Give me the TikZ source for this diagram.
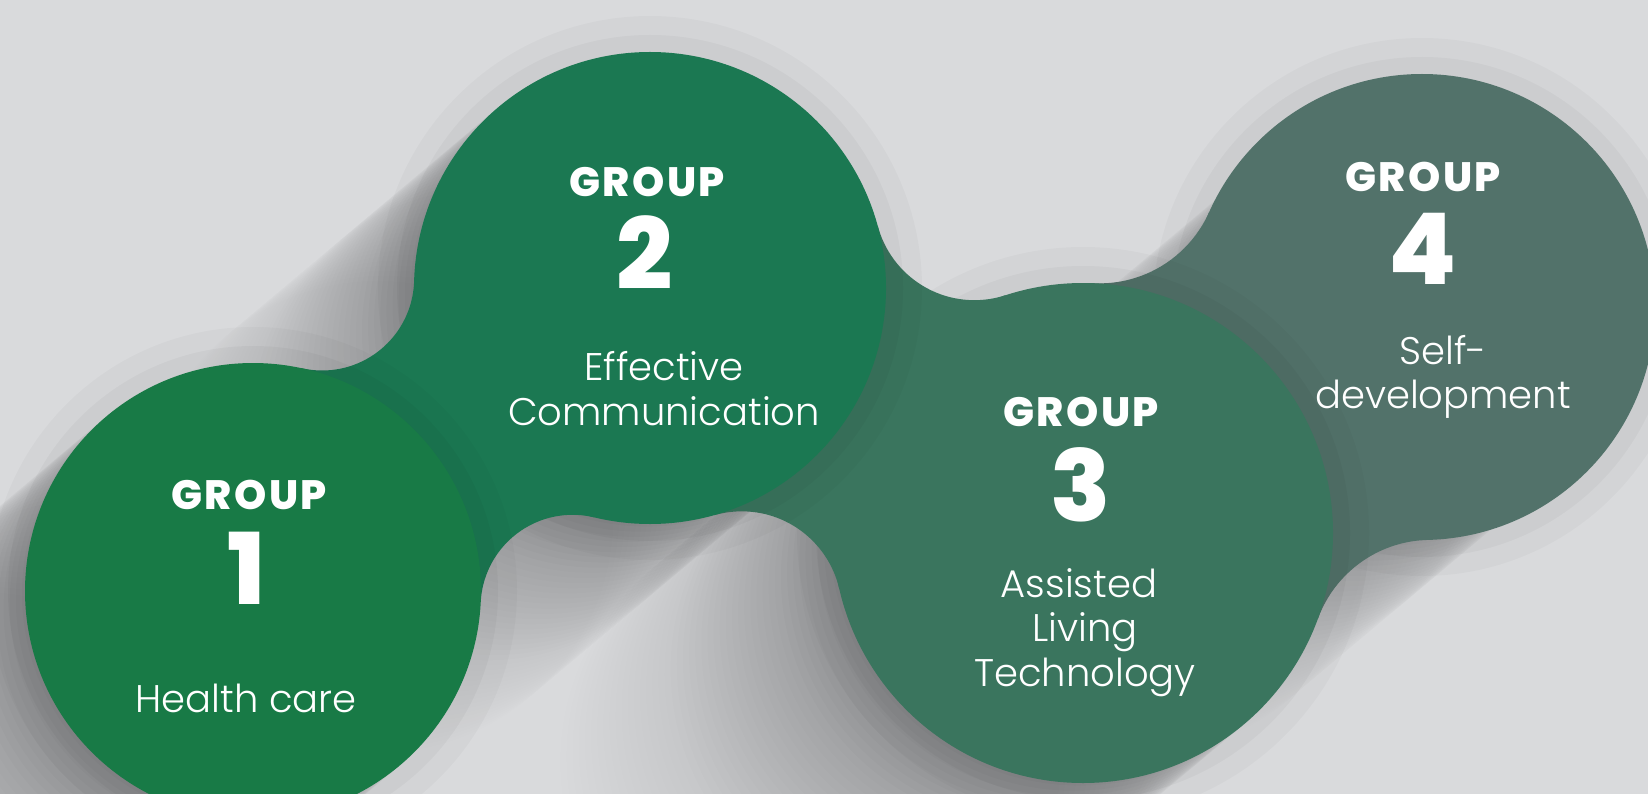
\documentclass[tikz,border=0pt]{standalone}
\usepackage{fontspec}
\setmainfont{Poppins}
\newfontfamily\grpfont{Poppins ExtraBold}[LetterSpace=6]
\newfontfamily\numfont{Poppins ExtraBold}
\newfontfamily\bodyfont{Poppins Light}
\usetikzlibrary{intersections,calc}

\definecolor{bgc}{HTML}{D9DADC}
\definecolor{gA}{HTML}{187A46}
\definecolor{gB}{HTML}{1B7852}
\definecolor{gC}{HTML}{3A755E}
\definecolor{gD}{HTML}{52726A}

% soft ring of shade cast by a disc onto whatever lies behind it
\newcommand\blobhalo[2]{%
  \fill[black,opacity=0.025] (#1) circle[radius=#2+36];
  \fill[black,opacity=0.03] (#1) circle[radius=#2+17];}

% filled neck between two discs: inside the quadrilateral through both
% centres and both fillet centres, everything but the two fillet discs
\newcommand\blobbridge[6]{%
  \begin{scope}
    \clip (#1) -- (#3) -- (#2) -- (#4) -- cycle;
    \fill[#6,even odd rule] (0,0) rectangle (1648,794)
      (#3) circle[radius=#5] (#4) circle[radius=#5];
  \end{scope}}

\tikzset{
  grp/.style={text=white,anchor=base,inner sep=0pt,
    font=\grpfont\fontsize{41}{41}\selectfont},
  num/.style={text=white,anchor=base,inner sep=0pt,
    font=\numfont\fontsize{99}{99}\selectfont},
  lbl/.style={text=white,anchor=base,inner sep=0pt,
    font=\bodyfont\fontsize{38.5}{38.5}\selectfont}
}

\begin{document}
\begin{tikzpicture}[x=1pt,y=-1pt]
\useasboundingbox (0,0) rectangle (1648,794);
\clip (0,0) rectangle (1648,794);
\fill[bgc] (0,0) rectangle (1648,794);

% disc centres
\coordinate (c1) at (253,591);
\coordinate (c2) at (650,288);
\coordinate (c3) at (1083,533);
\coordinate (c4) at (1422,307);

% long shadow towards the lower left, fading with distance
\foreach \t in {4,12,...,420} {
  \pgfmathsetmacro\op{0.0118*(1-\t/430)}
  \pgfmathsetmacro\dx{-0.766*\t}
  \pgfmathsetmacro\dy{0.643*\t}
  \fill[black,opacity=\op]
    ($(c1)+(\dx,\dy)$) circle[radius=228]
    ($(c2)+(\dx,\dy)$) circle[radius=236]
    ($(c3)+(\dx,\dy)$) circle[radius=250]
    ($(c4)+(\dx,\dy)$) circle[radius=215];
}

% fillet centres between neighbouring discs
\path[name path=p12a] (c1) circle[radius=320];
\path[name path=p12b] (c2) circle[radius=328];
\path[name intersections={of=p12a and p12b, by={f12a,f12b}}];
\path[name path=p23a] (c2) circle[radius=336];
\path[name path=p23b] (c3) circle[radius=350];
\path[name intersections={of=p23a and p23b, by={f23a,f23b}}];
\path[name path=p34a] (c3) circle[radius=370];
\path[name path=p34b] (c4) circle[radius=353];
\path[name intersections={of=p34a and p34b, by={f34a,f34b}}];

% back to front: group 4, 3, 2, 1
\blobhalo{c4}{233}
\fill[gD] (c4) circle[radius=233];
\blobbridge{c3}{c4}{f34a}{f34b}{120}{gD}

\blobhalo{c3}{250}
\fill[gC] (c3) circle[radius=250];
\blobbridge{c2}{c3}{f23a}{f23b}{100}{gC}

\blobhalo{c2}{236}
\fill[gB] (c2) circle[radius=236];
\blobbridge{c1}{c2}{f12a}{f12b}{92}{gB}

\blobhalo{c1}{228}
\fill[gA] (c1) circle[radius=228];

% labels
\node[grp] (g1t) at (249,509) {GROUP};
\node[num] (g1n) at (247,604) {1};
\node[lbl] (g1l) at (246,712) {Health care};

\node[grp] (g2t) at (647,197) {GROUP};
\node[num] (g2n) at (645,290) {2};
\node[lbl] (g2a) at (664,380) {Effective};
\node[lbl] (g2b) at (664,425) {Communication};

\node[grp] (g3t) at (1081,426) {GROUP};
\node[num] (g3n) at (1081,521) {3};
\node[lbl] (g3a) at (1079,597) {Assisted};
\node[lbl] (g3b) at (1085,641) {Living};
\node[lbl] (g3c) at (1085,686) {Technology};

\node[grp] (g4t) at (1423,192) {GROUP};
\node[num] (g4n) at (1423,284) {4};
\node[lbl] (g4a) at (1443,364) {Self-};
\node[lbl] (g4b) at (1443,408) {development};
\end{tikzpicture}
\end{document}
